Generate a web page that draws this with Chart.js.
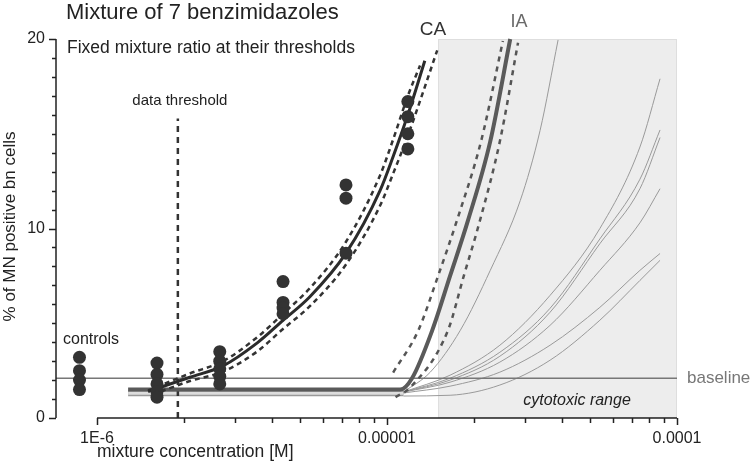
<!DOCTYPE html>
<html>
<head>
<meta charset="utf-8">
<script src="https://cdn.jsdelivr.net/npm/chart.js@4.4.1/dist/chart.umd.min.js"></script>
<style>
  body { margin: 0; background: #fff; }
  #wrap { width: 750px; height: 462px; }
</style>
</head>
<body>
<div id="wrap"><canvas id="mixChart" width="750" height="462"></canvas></div>
<script>
// measured points (% MN positive bn cells)
const controlConc = 8.7e-7;
const controlValues = [3.2, 2.5, 2.0, 1.5];
const doseConc = [1.61e-6, 2.65e-6, 4.38e-6, 7.22e-6, 1.18e-5];
const doseValues = [
  [2.9, 2.3, 1.8, 1.4, 1.1],
  [3.5, 3.0, 2.6, 2.2, 1.8],
  [7.2, 6.1, 5.8, 5.5],
  [12.3, 11.6, 8.7],
  [16.7, 15.9, 15.0, 14.2]
];

// CA prediction + confidence band
const caConc = [1.50e-6, 2.09e-6, 2.72e-6, 3.56e-6, 4.38e-6, 5.42e-6, 7.22e-6, 9.46e-6, 1.05e-5, 1.18e-5, 1.35e-5];
const caValues = [1.4, 2.15, 2.75, 3.95, 5.15, 6.4, 8.7, 12.0, 13.8, 16.0, 18.85];
const caUpConc = [1.50e-6, 2.09e-6, 2.72e-6, 3.56e-6, 4.38e-6, 5.42e-6, 7.22e-6, 9.46e-6, 1.05e-5, 1.18e-5, 1.30e-5];
const caUpValues = [1.45, 2.35, 3.0, 4.25, 5.5, 6.85, 9.3, 12.8, 14.7, 17.0, 18.6];
const caLoConc = [1.66e-6, 2.09e-6, 2.72e-6, 3.56e-6, 4.38e-6, 5.42e-6, 7.22e-6, 9.46e-6, 1.05e-5, 1.18e-5, 1.49e-5];
const caLoValues = [1.4, 1.95, 2.45, 3.5, 4.7, 5.9, 8.1, 11.2, 12.9, 14.9, 19.4];

// IA prediction + confidence band
const iaConc = [1.28e-6, 1.11e-5, 1.22e-5, 1.43e-5, 1.65e-5, 1.90e-5, 2.27e-5, 2.66e-5];
const iaValues = [1.5, 1.5, 2.1, 4.6, 7.5, 10.4, 14.6, 20];
const iaUpConc = [1.05e-5, 1.28e-5, 1.50e-5, 1.74e-5, 2.11e-5, 2.51e-5];
const iaUpValues = [2.4, 4.6, 7.5, 10.4, 14.6, 19.9];
const iaLoConc = [1.07e-5, 1.20e-5, 1.62e-5, 1.84e-5, 2.09e-5, 2.45e-5, 2.83e-5];
const iaLoValues = [1.1, 1.6, 4.6, 7.5, 10.4, 14.6, 19.8];

// single compounds (thin grey)
const singleConc1 = [1.14e-5, 1.41e-5, 1.79e-5, 2.27e-5, 2.88e-5, 3.37e-5, 3.89e-5];
const singleValues1 = [1.37, 2.42, 4.63, 7.79, 11.47, 15.16, 19.95];
const singleConc = [1.14e-5, 1.65e-5, 2.45e-5, 3.65e-5, 5.42e-5, 7.45e-5, 8.74e-5];
const singleValues = [
  [1.37, 2.26, 3.84, 6.47, 10.0, 14.3, 17.9],
  [1.37, 2.1, 3.47, 5.79, 9.45, 12.6, 15.2],
  [1.37, 2.0, 3.26, 5.58, 9.2, 12.1, 14.8],
  [1.37, 1.89, 2.95, 4.89, 7.79, 10.3, 12.1],
  [1.32, 1.68, 2.42, 3.84, 5.84, 7.79, 8.68],
  [1.16, 1.2, 1.74, 3.05, 5.16, 7.26, 8.32]
];
const singleFlatConc = [1.28e-6, 1.14e-5];
const singleFlatValue = 1.3;

const baselineValue = 2.1;
const thresholdConc = 1.9e-6;
const thresholdTop = 15.8;
const cytotoxicStart = 1.5e-5;

const xMin = 7.22e-7, xMax = 1e-4;
const majorTicks = [1e-6, 1e-5, 1e-4];
const majorLabels = ['1E-6', '0.00001', '0.0001'];
const minorMult = [2, 3, 4, 5, 6, 7, 8, 9];
const yLabelTicks = [0, 10, 20];

const FONT = '"Liberation Sans", Arial, sans-serif';

function pts(xs, ys) {
  return xs.map((x, i) => ({ x: x, y: ys[i] }));
}

function lineSet(data, color, width, dash, order, extra) {
  return Object.assign({
    type: 'line',
    data: data,
    borderColor: color,
    borderWidth: width,
    borderDash: dash || [],
    pointRadius: 0,
    fill: false,
    showLine: true,
    order: order,
    cubicInterpolationMode: 'monotone'
  }, extra || {});
}

const datasets = [];

// flat part of the single compound curves
datasets.push(lineSet(pts(singleFlatConc, [singleFlatValue, singleFlatValue]), '#999', 6, null, 20));
datasets.push(lineSet(pts(singleFlatConc, [singleFlatValue, singleFlatValue]), '#ddd', 3, null, 19));

datasets.push(lineSet(pts(singleConc1, singleValues1), '#9a9a9a', 1, null, 18));
singleValues.forEach(vals => {
  datasets.push(lineSet(pts(singleConc, vals), '#9a9a9a', 1, null, 18));
});

datasets.push(lineSet(pts([xMin, xMax], [baselineValue, baselineValue]), '#777', 1.5, null, 15, { cubicInterpolationMode: 'default' }));
datasets.push(lineSet(pts([thresholdConc, thresholdConc], [0, thresholdTop]), '#333', 2.5, [6, 5], 14, { cubicInterpolationMode: 'default' }));

datasets.push(lineSet(pts(iaUpConc, iaUpValues), '#555', 2.5, [5, 5], 12));
datasets.push(lineSet(pts(iaLoConc, iaLoValues), '#555', 2.5, [5, 5], 12));
datasets.push(lineSet(pts(iaConc, iaValues), '#5a5a5a', 4, null, 11));

datasets.push(lineSet(pts(caUpConc, caUpValues), '#333', 2.5, [5, 4], 10));
datasets.push(lineSet(pts(caLoConc, caLoValues), '#333', 2.5, [5, 4], 10));
datasets.push(lineSet(pts(caConc, caValues), '#2b2b2b', 3, null, 9));

const scatterData = controlValues.map(v => ({ x: controlConc, y: v }));
doseConc.forEach((c, i) => {
  doseValues[i].forEach(v => scatterData.push({ x: c, y: v }));
});
datasets.push({
  type: 'scatter',
  data: scatterData,
  backgroundColor: '#333',
  borderColor: '#333',
  borderWidth: 0,
  pointRadius: 6.5,
  order: 1
});

const decorPlugin = {
  id: 'decor',
  beforeDatasetsDraw(chart) {
    const ctx = chart.ctx;
    const x = chart.scales.x, y = chart.scales.y;
    const left = x.getPixelForValue(cytotoxicStart);
    const right = x.getPixelForValue(xMax);
    const top = y.getPixelForValue(20);
    const bottom = y.getPixelForValue(0);
    ctx.save();
    ctx.fillStyle = '#ededed';
    ctx.fillRect(left, top, right - left, bottom - top);
    ctx.strokeStyle = '#dedede';
    ctx.lineWidth = 1;
    ctx.strokeRect(left + 0.5, top + 0.5, right - left - 1, bottom - top - 1);
    ctx.restore();
  },
  afterDraw(chart) {
    const ctx = chart.ctx;
    const x = chart.scales.x, y = chart.scales.y;
    const y0 = y.getPixelForValue(0);
    const axisX = chart.chartArea.left;
    ctx.save();
    ctx.strokeStyle = '#222';
    ctx.lineWidth = 1.5;

    // y axis with ticks
    ctx.beginPath();
    ctx.moveTo(axisX, y.getPixelForValue(20));
    ctx.lineTo(axisX, y0);
    for (let v = 0; v <= 20; v++) {
      const py = Math.round(y.getPixelForValue(v)) + 0.5;
      const len = yLabelTicks.includes(v) ? 7 : 4;
      ctx.moveTo(axisX, py);
      ctx.lineTo(axisX - len, py);
    }
    ctx.stroke();

    // x axis with ticks
    ctx.beginPath();
    ctx.moveTo(x.getPixelForValue(majorTicks[0]), y0);
    ctx.lineTo(x.getPixelForValue(majorTicks[2]), y0);
    x.ticks.forEach(t => {
      const px = Math.round(x.getPixelForValue(t.value)) + 0.5;
      const major = majorTicks.some(m => Math.abs(t.value / m - 1) < 1e-6);
      ctx.moveTo(px, y0);
      ctx.lineTo(px, y0 + (major ? 7 : 5));
    });
    ctx.stroke();

    // texts
    ctx.fillStyle = '#222';
    ctx.textBaseline = 'alphabetic';
    ctx.textAlign = 'left';
    ctx.font = '22px ' + FONT;
    ctx.fillText('Mixture of 7 benzimidazoles', 66, 19);
    ctx.font = '17.5px ' + FONT;
    ctx.fillText('Fixed mixture ratio at their thresholds', 67, 53);

    ctx.textBaseline = 'middle';
    ctx.font = '16px ' + FONT;
    ctx.fillText('controls', 63, 340);
    ctx.font = '17.5px ' + FONT;
    ctx.fillText('mixture concentration [M]', x.getPixelForValue(majorTicks[0]), 452);

    ctx.textAlign = 'center';
    ctx.font = '15px ' + FONT;
    ctx.fillText('data threshold', x.getPixelForValue(thresholdConc) + 2, 101);

    ctx.font = '19px ' + FONT;
    ctx.fillStyle = '#333';
    ctx.fillText('CA', 433, 30);
    ctx.font = '18px ' + FONT;
    ctx.fillStyle = '#6a6a6a';
    ctx.fillText('IA', 519, 22);

    ctx.font = 'italic 16px ' + FONT;
    ctx.fillStyle = '#222';
    ctx.fillText('cytotoxic range', 577, 401);

    ctx.textAlign = 'left';
    ctx.font = '17px ' + FONT;
    ctx.fillStyle = '#777';
    ctx.fillText('baseline', 687, y.getPixelForValue(baselineValue));

    // y title
    ctx.fillStyle = '#222';
    ctx.font = '17px ' + FONT;
    ctx.translate(10, (y.getPixelForValue(0) + y.getPixelForValue(20)) / 2 - 2);
    ctx.rotate(-Math.PI / 2);
    ctx.textAlign = 'center';
    ctx.fillText('% of MN positive bn cells', 0, 0);
    ctx.restore();
  }
};

new Chart(document.getElementById('mixChart'), {
  data: { datasets: datasets },
  options: {
    responsive: false,
    animation: false,
    devicePixelRatio: 1,
    clip: false,
    layout: { padding: { left: 0, top: 39, right: 73, bottom: 0 } },
    plugins: { legend: { display: false }, tooltip: { enabled: false } },
    scales: {
      x: {
        type: 'logarithmic',
        min: xMin,
        max: xMax,
        afterFit(scale) { scale.height = 44; },
        afterBuildTicks(scale) {
          const t = [];
          [1e-6, 1e-5].forEach(d => {
            t.push({ value: d });
            minorMult.forEach(m => t.push({ value: m * d }));
          });
          t.push({ value: 1e-4 });
          scale.ticks = t;
        },
        grid: { display: false, drawTicks: false },
        border: { display: false },
        ticks: {
          autoSkip: false,
          maxRotation: 0,
          padding: 11,
          color: '#222',
          font: { family: FONT, size: 16 },
          callback(v) {
            const i = majorTicks.findIndex(m => Math.abs(v / m - 1) < 1e-6);
            return i >= 0 ? majorLabels[i] : '';
          }
        }
      },
      y: {
        type: 'linear',
        min: 0,
        max: 20,
        afterFit(scale) { scale.width = 56; },
        grid: { display: false, drawTicks: false },
        border: { display: false },
        ticks: {
          stepSize: 1,
          autoSkip: false,
          padding: 11,
          color: '#222',
          font: { family: FONT, size: 16 },
          callback(v) { return yLabelTicks.includes(v) ? String(v) : ''; }
        }
      }
    }
  },
  plugins: [decorPlugin]
});
</script>
</body>
</html>
